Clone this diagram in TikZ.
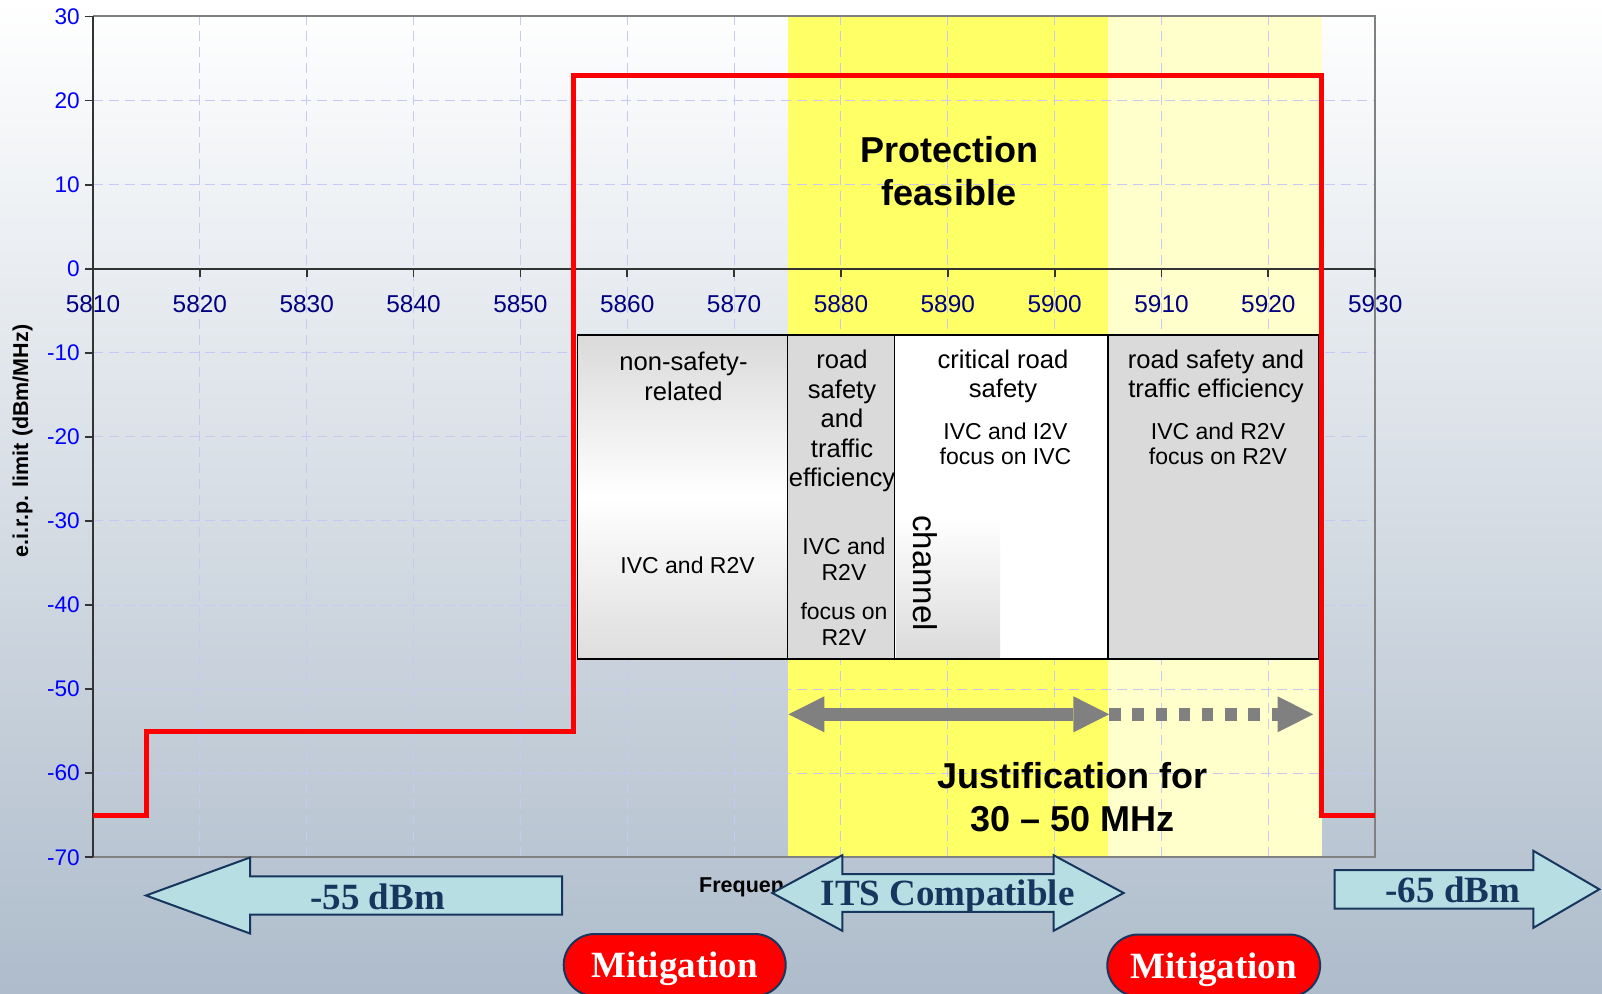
\documentclass[tikz,border=0pt]{standalone}
\usepackage{fontspec}
\setmainfont{Liberation Sans}
\newfontfamily\romanfont{Liberation Serif}
\usepackage{tikz}
\usetikzlibrary{positioning,arrows.meta}
\definecolor{bgbottom}{HTML}{AEBCCB}
\definecolor{ybright}{HTML}{FFFF66}
\definecolor{ypale}{HTML}{FFFFCC}
\definecolor{gridline}{HTML}{C8C8F5}
\definecolor{framegray}{HTML}{808080}
\definecolor{limitred}{HTML}{FF0000}
\definecolor{ticklabel}{HTML}{0000FF}
\definecolor{freqlabel}{HTML}{000080}
\definecolor{cellgray}{HTML}{DADADA}
\definecolor{arrowgray}{HTML}{808080}
\definecolor{calloutfill}{HTML}{B7DEE3}
\definecolor{navy}{HTML}{17365D}

\begin{document}
\begin{tikzpicture}[
  x=0.5pt, y=-0.5pt,
  grid/.style={gridline, line width=0.5pt, dash pattern=on 5pt off 3pt},
  border/.style={framegray, line width=1pt},
  axis/.style={black!80, line width=0.9pt},
  ylab/.style={font=\fontsize{11.3}{13}\selectfont, text=ticklabel, anchor=east, inner sep=0pt},
  xlab/.style={font=\fontsize{12.2}{14}\selectfont, text=freqlabel, inner sep=0pt},
  cell/.style={draw=black, line width=0.75pt},
  head/.style={font=\fontsize{12.8}{14.8}\selectfont, align=center, inner sep=0pt},
  sub/.style={font=\fontsize{11.5}{12.75}\selectfont, align=center, inner sep=0pt},
  big/.style={font=\fontsize{18}{21.5}\selectfont\bfseries, align=center, inner sep=0pt},
  limit/.style={limitred, line width=2.5pt},
  span/.style={arrowgray, line width=6.2pt,
               {Triangle[length=17.85pt, width=18pt, line width=0pt]}-{Triangle[length=17.85pt, width=18pt, line width=0pt]}},
  dotspan/.style={arrowgray, line width=6.2pt, dash pattern=on 5.7pt off 5.9pt,
               -{Triangle[length=17.85pt, width=18pt, line width=0pt]}},
  callout/.style={fill=calloutfill, draw=navy, line width=1pt, line join=miter},
  callouttext/.style={font=\romanfont\bfseries\fontsize{18.5}{20}\selectfont, text=navy,
               inner sep=0pt, text depth=0pt},
  mitig/.style={fill=limitred, draw=navy, line width=1pt, rounded corners=15.5pt,
               minimum height=31pt, text=white, inner sep=0pt, text depth=0pt,
               font=\romanfont\bfseries\fontsize{18.5}{20}\selectfont}
]
\useasboundingbox (0,0) rectangle (1602,994);
\shade[top color=white, bottom color=bgbottom] (0,0) rectangle (1602,994);

% chart: x in MHz above 5810, y in dBm/MHz
\begin{scope}[x={(5.3425pt,0pt)}, y={(0pt,4.204pt)}, shift={(46.5pt,-134.35pt)}]
  \fill[ybright] (65,-70) rectangle (95,30);
  \fill[ypale] (95,-70) rectangle (115,30);
  \foreach \f in {10,20,...,110} \draw[grid] (\f,-70) -- (\f,30);
  \foreach \d in {-60,-50,...,20} \draw[grid] (0,\d) -- (120,\d);
  \draw[border] (0,30) -- (120,30) -- (120,-70) -- (0,-70);
  \draw[axis] (0,-70) -- (0,30);
  \foreach \d [count=\i] in {-70,-60,...,30} {
    \draw[axis] (0,\d) -- (-0.75,\d);
    \node[ylab] (y\i) at (-1.2,\d) {\d};
  }
  \draw[axis] (0,0) -- (120,0);
  \foreach \f [count=\i, evaluate=\f as \mhz using int(5810+\f)] in {0,10,...,120} {
    \draw[axis] (\f,0) -- (\f,-0.95);
    \node[xlab] (x\i) at (\f,-4.26) {\mhz};
  }
  % channel table
  \shade[top color=cellgray, bottom color=cellgray!90, middle color=white] (45.35,-7.89) rectangle (65,-46.42);
  \fill[cellgray] (65,-7.89) rectangle (75,-46.42);
  \fill[white] (75,-7.89) rectangle (95,-46.42);
  \shade[top color=white, bottom color=cellgray] (75.2,-29.5) rectangle (84.9,-46.42);
  \fill[cellgray] (95,-7.89) rectangle (114.7,-46.42);
  \draw[cell] (45.35,-7.89) rectangle (114.7,-46.42);
  \foreach \f in {65,75,95} \draw[cell] (\f,-7.89) -- (\f,-46.42);
  % eirp limit
  \draw[limit] (0,-65) -- (5,-65) -- (5,-55) -- (45,-55) -- (45,23) -- (115,23) -- (115,-65) -- (120,-65);
  \coordinate (spanL) at (65.1,-53);
  \coordinate (spanM) at (95.1,-53);
  \coordinate (spanR) at (114.2,-53);
  \draw[span] (spanL) -- (spanM);
  \draw[dotspan] (spanM) -- (spanR);
\end{scope}

\node[big] (protect) at (949,171.6) {Protection\\feasible};
\node[big] (justify) at (1072.8,797.5) {Justification for\\30 \textendash{} 50 MHz};

\node[head] (t1) at (683.5,376.5) {non-safety-\\related};
\node[sub] (t1b) at (687.6,565) {IVC and R2V};
\node[head] (t2) at (842,421) {road\\safety\\and\\traffic\\efficiency};
\node[sub] (t2b) at (844,559.4) {IVC and\\R2V};
\node[sub, below=11pt of t2b] (t2c) {focus on\\R2V};
\node[head] (t3) at (1003,376.5) {critical road\\safety};
\node[sub] (t3b) at (1005.5,443.9) {IVC and I2V\\focus on IVC};
\node[head] (t4) at (1216,376.5) {road safety and\\traffic efficiency};
\node[sub] (t4b) at (1218,443.9) {IVC and R2V\\focus on R2V};
\node[head, font=\fontsize{16.5}{18}\selectfont, rotate=-90] (chan) at (925,573) {channel};

\node[font=\fontsize{10.75}{12}\selectfont\bfseries, rotate=90, inner sep=0pt] (ytitle) at (22.5,441) {e.i.r.p. limit (dBm/MHz)};
\node[font=\fontsize{10.75}{12}\selectfont\bfseries, anchor=west, inner sep=0pt] (xtitle) at (698.8,887.3) {Frequen};

% band callouts
\draw[callout] (146,895.5) -- (250,857.5) -- (250,876.3) -- (562,876.3) -- (562,914.7)
  -- (250,914.7) -- (250,933.5) -- cycle;
\node[callouttext] (lowband) at (377.6,897) {-55 dBm};
\draw[callout] (772.3,893) -- (842.3,855.2) -- (842.3,874.1) -- (1053.6,874.1) -- (1053.6,855.2)
  -- (1123.6,893) -- (1053.6,930.8) -- (1053.6,911.9) -- (842.3,911.9) -- (842.3,930.8) -- cycle;
\node[callouttext] (itsband) at (947.6,893) {ITS Compatible};
\draw[callout] (1334.7,870) -- (1533.4,870) -- (1533.4,850.8) -- (1599.3,889.3) -- (1533.4,927.8)
  -- (1533.4,908.6) -- (1334.7,908.6) -- cycle;
\node[callouttext] (highband) at (1452.8,890) {-65 dBm};

\node[mitig, minimum width=111pt] (mitA) at (674.7,965) {Mitigation};
\node[mitig, minimum width=106.4pt] (mitB) at (1213.7,965.5) {Mitigation};
\end{tikzpicture}
\end{document}
